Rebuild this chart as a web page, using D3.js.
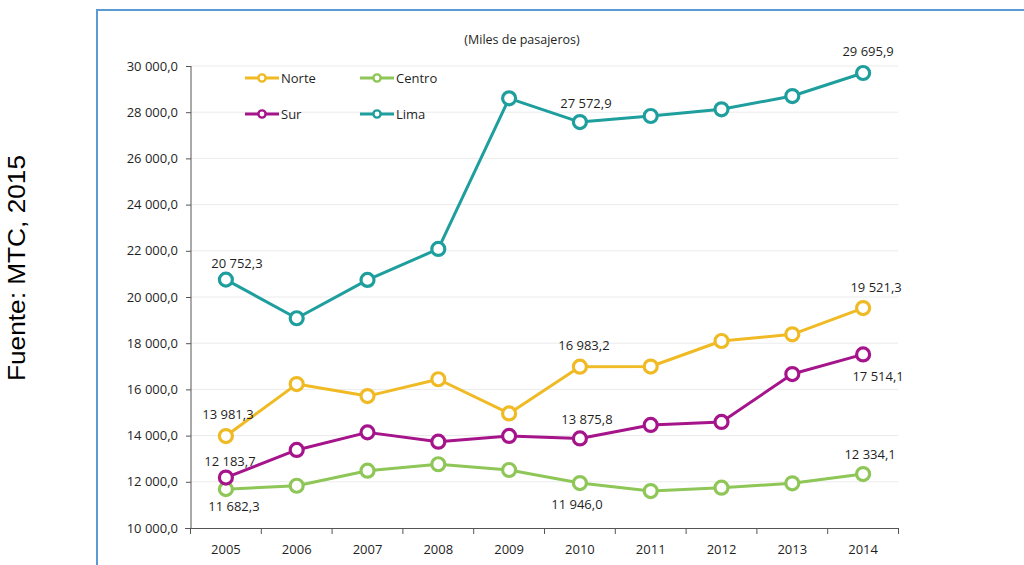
<!DOCTYPE html>
<html>
<head>
<meta charset="utf-8">
<script src="https://cdn.jsdelivr.net/npm/d3@7"></script>
<style>
  html, body { margin: 0; padding: 0; background: #ffffff; }
  svg { display: block; }
  text { font-family: "Open Sans", "Noto Sans", sans-serif; fill: #1f1f1f; }
</style>
</head>
<body>
<svg id="chart" width="1024" height="565"></svg>
<script>
// Passenger traffic by region, thousands of passengers
const years = ["2005", "2006", "2007", "2008", "2009", "2010", "2011", "2012", "2013", "2014"];
const norte  = [13981.3, 16230, 15710, 16440, 14960, 16983.2, 16990, 18095, 18385, 19521.3];
const centro = [11682.3, 11830, 12480, 12760, 12510, 11946.0, 11600, 11745, 11935, 12334.1];
const sur    = [12183.7, 13380, 14140, 13735, 13985, 13875.8, 14460, 14590, 16665, 17514.1];
const lima   = [20752.3, 19080, 20740, 22080, 28600, 27572.9, 27835, 28125, 28700, 29695.9];
const seriesNames = ["Norte", "Centro", "Sur", "Lima"];
const yTicks = [10000, 12000, 14000, 16000, 18000, 20000, 22000, 24000, 26000, 28000, 30000];
const subtitle = "(Miles de pasajeros)";
const source = "Fuente: MTC, 2015";

const colors = { Norte: "#F0BA25", Centro: "#8EC657", Sur: "#A5148A", Lima: "#1F9E9E" };
const seriesData = { Norte: norte, Centro: centro, Sur: sur, Lima: lima };

// Value labels: which points carry a label and where it sits relative to the marker
const labelled = [
  { s: "Lima",   i: 0, dx: 11, dy: -12 },
  { s: "Norte",  i: 0, dx: 2,  dy: -17 },
  { s: "Sur",    i: 0, dx: 4,  dy: -12 },
  { s: "Centro", i: 0, dx: 8,  dy: 22 },
  { s: "Lima",   i: 5, dx: 6,  dy: -14 },
  { s: "Norte",  i: 5, dx: 4,  dy: -17 },
  { s: "Sur",    i: 5, dx: 7,  dy: -14 },
  { s: "Centro", i: 5, dx: -3, dy: 26 },
  { s: "Lima",   i: 9, dx: 5,  dy: -17 },
  { s: "Norte",  i: 9, dx: 13, dy: -16 },
  { s: "Sur",    i: 9, dx: 15, dy: 27 },
  { s: "Centro", i: 9, dx: 7,  dy: -15 }
];

const locale = d3.formatLocale({ decimal: ",", thousands: "\u00a0", grouping: [3], currency: ["", ""] });
const fmt = locale.format(",.1f");

const svg = d3.select("#chart");

// Slide frame
svg.append("path")
  .attr("d", "M97,566 L97,10 L1025,10")
  .attr("fill", "none")
  .attr("stroke", "#5B9BD5")
  .attr("stroke-width", 2);

// Source note, rotated
svg.append("text")
  .attr("transform", "translate(25,268) rotate(-90)")
  .attr("text-anchor", "middle")
  .style("font-family", "'Liberation Sans', Arial, sans-serif")
  .style("font-size", "23px")
  .attr("textLength", 226)
  .attr("lengthAdjust", "spacingAndGlyphs")
  .style("fill", "#000")
  .text(source);

const x = d3.scaleBand().domain(years).range([190.5, 898.5]);
const y = d3.scaleLinear().domain([10000, 30000]).range([528, 66]);
const cx = d => x(d) + x.bandwidth() / 2;

// Subtitle
svg.append("text")
  .attr("x", 522).attr("y", 44)
  .attr("text-anchor", "middle")
  .style("font-size", "12.5px")
  .text(subtitle);

// Gridlines
svg.append("g")
  .selectAll("line")
  .data(yTicks.filter(t => t > 10000))
  .join("line")
  .attr("x1", 191).attr("x2", 898)
  .attr("y1", d => y(d)).attr("y2", d => y(d))
  .attr("stroke", "#ebebeb")
  .attr("stroke-width", 1);

// Y axis
const yAxis = svg.append("g")
  .attr("transform", "translate(191,0)")
  .call(d3.axisLeft(y).tickValues(yTicks).tickSize(5).tickPadding(8).tickFormat(fmt));
yAxis.selectAll("text").style("font-size", "13px").style("fill", "#1f1f1f");
yAxis.selectAll("line, path").attr("stroke", "#555");
yAxis.select(".domain").attr("d", "M0,66V528");

// X axis with ticks between categories
const xAxisG = svg.append("g").attr("transform", "translate(0,528)");
xAxisG.append("line")
  .attr("x1", 185).attr("x2", 898.5)
  .attr("y1", 0.5).attr("y2", 0.5)
  .attr("stroke", "#555");
const bounds = years.map(d => x(d)).concat([x(years[years.length - 1]) + x.bandwidth()]);
xAxisG.selectAll("line.tk")
  .data(bounds)
  .join("line")
  .attr("class", "tk")
  .attr("x1", d => d).attr("x2", d => d)
  .attr("y1", 0).attr("y2", 6)
  .attr("stroke", "#555");
xAxisG.selectAll("text")
  .data(years)
  .join("text")
  .attr("x", d => cx(d))
  .attr("y", 26)
  .attr("text-anchor", "middle")
  .style("font-size", "13px")
  .text(d => d);

// Lines and markers
const line = d3.line().x((v, i) => cx(years[i])).y(v => y(v));
["Centro", "Sur", "Norte", "Lima"].forEach(name => {
  const g = svg.append("g");
  g.append("path")
    .datum(seriesData[name])
    .attr("d", line)
    .attr("fill", "none")
    .attr("stroke", colors[name])
    .attr("stroke-width", 3)
    .attr("stroke-linejoin", "round");
  g.selectAll("circle")
    .data(seriesData[name])
    .join("circle")
    .attr("cx", (v, i) => cx(years[i]))
    .attr("cy", v => y(v))
    .attr("r", 6.5)
    .attr("fill", "#fff")
    .attr("stroke", colors[name])
    .attr("stroke-width", 3.2);
});

// Value labels
svg.append("g")
  .selectAll("text")
  .data(labelled)
  .join("text")
  .attr("x", d => cx(years[d.i]) + d.dx)
  .attr("y", d => y(seriesData[d.s][d.i]) + d.dy)
  .attr("text-anchor", "middle")
  .style("font-size", "13px")
  .text(d => fmt(seriesData[d.s][d.i]));

// Legend
const legendPos = { Norte: [245, 78], Centro: [360, 78], Sur: [245, 114], Lima: [360, 114] };
seriesNames.forEach(name => {
  const [lx, ly] = legendPos[name];
  const g = svg.append("g");
  g.append("line")
    .attr("x1", lx).attr("x2", lx + 34)
    .attr("y1", ly).attr("y2", ly)
    .attr("stroke", colors[name]).attr("stroke-width", 2.8);
  g.append("circle")
    .attr("cx", lx + 17).attr("cy", ly).attr("r", 3.6)
    .attr("fill", "#fff")
    .attr("stroke", colors[name]).attr("stroke-width", 2.4);
  g.append("text")
    .attr("x", lx + 36).attr("y", ly + 4.5)
    .style("font-size", "13px")
    .text(name);
});
</script>
</body>
</html>
